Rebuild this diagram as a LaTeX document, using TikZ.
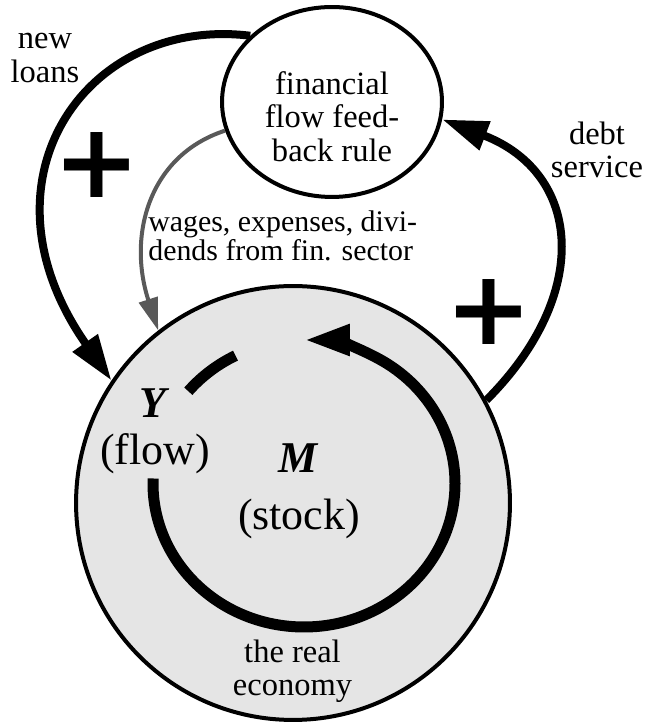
\documentclass[tikz,border=0pt]{standalone}
\usepackage{fontspec}
\setmainfont{Liberation Serif}
\newfontfamily\plusfont{DejaVu Sans}
\usepackage{tikz}
\usetikzlibrary{arrows.meta, shapes.geometric}

\begin{document}
\begin{tikzpicture}[x=0.02cm, y=0.02cm,
    lbl/.style={align=center, inner sep=0pt, font=\fontsize{18.5}{19}\selectfont},
    big/.style={align=center, inner sep=0pt, font=\fontsize{25}{26.6}\selectfont},
    sign/.style={inner sep=0pt, font=\plusfont\bfseries\fontsize{59}{59}\selectfont},
    head/.style={-{Triangle[length=0.92cm, width=0.58cm]}}]
    \useasboundingbox (0,0) rectangle (647,722);

    % Define the two regions
    \node[circle, draw, line width=0.08cm, fill=black!10, minimum size=8.68cm, inner sep=0pt] (real) at (293,219) {};
    \node[ellipse, draw, line width=0.08cm, minimum width=4.4cm, minimum height=3.8cm, inner sep=0pt] (fin) at (332,620) {};

    % Texts inside the regions
    \node[lbl] (fintext) at (332,605.5) {financial\\flow feed-\\back rule};
    \node[lbl] (econ) at (292.5,50.5) {the real\\economy};
    \node[big] (flow) at (155,290.5) {\textbf{\textit{Y}}\\(flow)};
    \node[big] (stock) at (299,230.5) {\textbf{\textit{M}}\\[5.7pt](stock)};

    % The loop of the real economy
    \coordinate (loop) at (304,238.5);
    \begin{scope}[line width=0.22cm]
        \draw[head] (loop) ++(178:151 and 143.5) arc[start angle=178, end angle=450, x radius=151, y radius=143.5];
        \draw (loop) ++(117:151 and 143.5) arc[start angle=117, end angle=140, x radius=151, y radius=143.5];
    \end{scope}

    % Flows between the regions
    \draw[line width=0.16cm, head] (fin.141) .. controls +(173:165) and +(125:245) .. (real.146); % new loans
    \draw[line width=0.16cm, head] (real.28) .. controls +(45:150) and +(-21:150) .. (fin.-9); % debt service
    \draw[line width=0.08cm, black!65, -{Triangle[length=0.65cm, width=0.38cm]}] (fin.195) .. controls +(198:80) and +(108:100) .. (real.128);

    % Flow labels and signs
    \node[lbl] (loans) at (45,664) {new\\loans};
    \node[lbl] (debt) at (597,572) {debt\\service};
    \node[lbl, font=\fontsize{17}{15.5}\selectfont, align=left, anchor=west] (wages) at (148,486.5) {wages, expenses, divi-\\dends from fin. sector};
    \node[sign] (plusA) at (97,557) {+};
    \node[sign] (plusB) at (489,410) {+};
\end{tikzpicture}
\end{document}
